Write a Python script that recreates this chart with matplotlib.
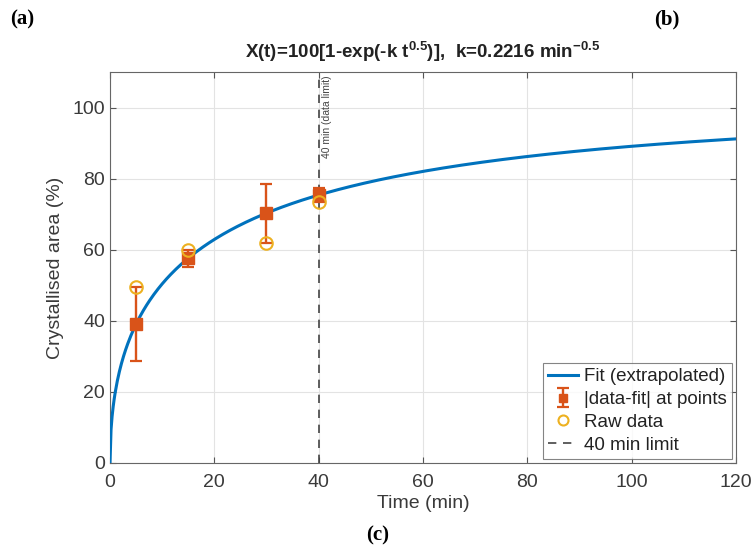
import matplotlib
matplotlib.use("Agg")
import matplotlib.pyplot as plt
import numpy as np

# data
t_data = np.array([5, 15, 30, 40])
raw_data = np.array([49.5, 60.0, 62.0, 73.5])
k = 0.2216
t_limit = 40
x_ticks = [0, 20, 40, 60, 80, 100, 120]
y_ticks = [0, 20, 40, 60, 80, 100]

blue = '#0072BD'
red = '#D95319'
yellow = '#EDB120'

plt.rcParams['font.family'] = ['Liberation Sans', 'DejaVu Sans']
plt.rcParams['mathtext.fontset'] = 'custom'
plt.rcParams['mathtext.rm'] = 'Liberation Sans:bold'
plt.rcParams['mathtext.default'] = 'rm'


def fit(t):
    return 100 * (1 - np.exp(-k * np.sqrt(t)))


fig = plt.figure(figsize=(7.55, 5.58), dpi=100)
ax = fig.add_axes([0.1457, 0.1703, 0.829, 0.7007])

t_curve = np.linspace(0, 120, 600)
h_fit, = ax.plot(t_curve, fit(t_curve), color=blue, lw=2.2, label='Fit (extrapolated)', zorder=3)

fit_pts = fit(t_data)
err = np.abs(raw_data - fit_pts)
h_err = ax.errorbar(t_data, fit_pts, yerr=err, fmt='s', color=red, mfc=red, mec=red,
                    ms=8, elinewidth=1.7, capsize=4, capthick=1.6,
                    label='|data-fit| at points', zorder=4)
h_raw, = ax.plot(t_data, raw_data, 'o', mfc='none', mec=yellow, mew=1.5, ms=9,
                 label='Raw data', zorder=5)
h_lim = ax.axvline(t_limit, color='#444444', ls=(0, (5, 4)), lw=1.2, label='40 min limit', zorder=2)
ax.text(t_limit + 1.6, 109, '40 min (data limit)', rotation=90, ha='center', va='top',
        fontsize=7.5, color='#444444')

ax.set_xlim(0, 120)
ax.set_ylim(0, 110)
ax.set_xticks(x_ticks)
ax.set_yticks(y_ticks)
ax.grid(True, color='#e3e3e3', lw=0.8)
ax.set_axisbelow(True)
ax.tick_params(direction='in', top=True, right=True, labelsize=14,
               colors='#555555', labelcolor='#3a3a3a', length=4)
ax.tick_params(axis='x', pad=8)
for s in ax.spines.values():
    s.set_color('#666666')
    s.set_linewidth(0.8)

ax.set_xlabel('Time (min)', fontsize=14, color='#3a3a3a', labelpad=3)
ax.set_ylabel('Crystallised area (%)', fontsize=14, color='#3a3a3a', labelpad=6)
ax.set_title(r'X(t)=100[1-exp(-k t$^{0.5}$)],  k=0.2216 min$^{-0.5}$',
             fontsize=13.5, fontweight='bold', color='#222222', pad=10)

leg = ax.legend([h_fit, h_err, h_raw, h_lim],
                ['Fit (extrapolated)', '|data-fit| at points', 'Raw data', '40 min limit'],
                loc='lower right', fontsize=13.5, frameon=True, fancybox=False,
                borderaxespad=0.2, handlelength=1.6, handletextpad=0.3,
                labelspacing=0.3, borderpad=0.3, markerscale=0.8)
leg.get_frame().set_edgecolor('#666666')
leg.get_frame().set_linewidth(0.8)
for txt in leg.get_texts():
    txt.set_color('#222222')

fig.text(0.013, 0.965, '(a)', fontsize=15, fontweight='bold', family='Liberation Serif', va='center')
fig.text(0.866, 0.965, '(b)', fontsize=15, fontweight='bold', family='Liberation Serif', va='center')
fig.text(0.5, 0.04, '(c)', fontsize=15, fontweight='bold', family='Liberation Serif',
         ha='center', va='center')

fig.savefig('out.png', dpi=100)
